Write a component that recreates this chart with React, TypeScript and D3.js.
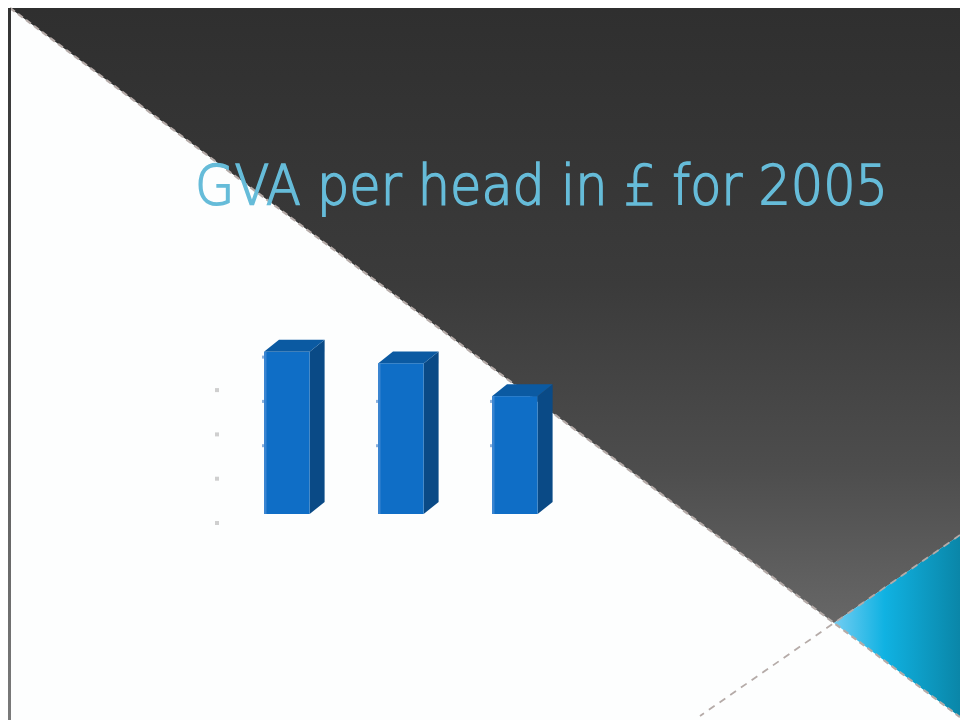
import React from "react";
import * as d3 from "d3";

const categories = ["Region A", "Region B", "Region C"];
const values = [18300, 17000, 13300];
const tickValues = [0, 5000, 10000, 15000];
const title = "GVA per head in £ for 2005";

const W = 960;
const H = 720;

export default function App() {
  const x = d3
    .scaleBand<string>()
    .domain(categories)
    .range([207, 594.6])
    .paddingInner(0.6)
    .paddingOuter(0.5);
  const y = d3.scaleLinear().domain([0, 20000]).range([514, 514 - 177.2]);
  const dx = 15;
  const dy = -12;
  const base = y(0);
  const bw = x.bandwidth();

  const diagA: [number, number] = [10, 8];
  const cross: [number, number] = [834, 623];
  const cyanTop: [number, number] = [960, 535];
  const cyanBot: [number, number] = [960, 717];
  const line = d3.line();

  const darkPoly = line([diagA, [960, 8], cyanTop, cross])! + "Z";
  const cyanPoly = line([cross, cyanTop, cyanBot])! + "Z";

  return (
    <svg
      width={W}
      height={H}
      style={{ position: "absolute", left: 0, top: 0, display: "block" }}
    >
      <defs>
        <linearGradient id="dark" x1="0" y1="8" x2="0" y2="623" gradientUnits="userSpaceOnUse">
          <stop offset="0" stopColor="#2f2f2f" />
          <stop offset="0.45" stopColor="#3b3b3b" />
          <stop offset="0.75" stopColor="#4d4d4d" />
          <stop offset="1" stopColor="#676767" />
        </linearGradient>
        <linearGradient id="cyan" x1="834" y1="0" x2="960" y2="0" gradientUnits="userSpaceOnUse">
          <stop offset="0" stopColor="#72cdf2" />
          <stop offset="0.4" stopColor="#10b2e2" />
          <stop offset="1" stopColor="#0a86a8" />
        </linearGradient>
        <linearGradient id="leftbar" x1="0" y1="8" x2="0" y2="720" gradientUnits="userSpaceOnUse">
          <stop offset="0" stopColor="#333333" />
          <stop offset="1" stopColor="#7a7a7a" />
        </linearGradient>
      </defs>
      <rect x={0} y={0} width={W} height={H} fill="#ffffff" />
      <rect x={8} y={8} width={W - 8} height={H - 8} fill="#fdfefe" />
      <path d={darkPoly} fill="url(#dark)" />
      <path d={cyanPoly} fill="url(#cyan)" />
      <path
        d={line([diagA, cyanBot])!}
        stroke="#b5aba8"
        strokeWidth={2.2}
        strokeDasharray="6 4"
        fill="none"
      />
      <path
        d={line([cyanTop, cross, [700, 716]])!}
        stroke="#b5aba8"
        strokeWidth={1.8}
        strokeDasharray="7 6"
        fill="none"
      />
      <rect x={8} y={8} width={3} height={H - 8} fill="url(#leftbar)" />

      <text
        x={195}
        y={204}
        fontFamily="DejaVu Sans, sans-serif"
        fontWeight={200}
        fontSize={55}
        fill="#66bcd9"
        stroke="#66bcd9"
        strokeWidth={1.6}
        textLength={693}
        lengthAdjust="spacingAndGlyphs"
      >
        {title}
      </text>

      {tickValues.map((t) => (
        <rect key={t} x={215} y={y(t) + 9 - 2} width={4} height={4} fill="#cfcfcf" />
      ))}

      {categories.map((c, i) => {
        const x0 = x(c)!;
        const yt = y(values[i]);
        const top = line([
          [x0, yt],
          [x0 + dx, yt + dy],
          [x0 + bw + dx, yt + dy],
          [x0 + bw, yt],
        ])! + "Z";
        const side = line([
          [x0 + bw, yt],
          [x0 + bw + dx, yt + dy],
          [x0 + bw + dx, base + dy],
          [x0 + bw, base],
        ])! + "Z";
        return (
          <g key={c}>
            <path d={side} fill="#0a4a86" />
            <path d={top} fill="#0b5aa2" />
            <rect x={x0} y={yt} width={bw} height={base - yt} fill="#0f6ec6" />
            <rect x={x0} y={yt} width={2.5} height={base - yt} fill="#4d8fd6" opacity={0.7} />
            {tickValues
              .filter((t) => y(t) - 24 > yt && t > 0)
              .map((t) => (
                <rect key={t} x={x0 - 2} y={y(t) - 24 - 1.5} width={2} height={3} fill="#8ab0dc" />
              ))}
          </g>
        );
      })}
    </svg>
  );
}
